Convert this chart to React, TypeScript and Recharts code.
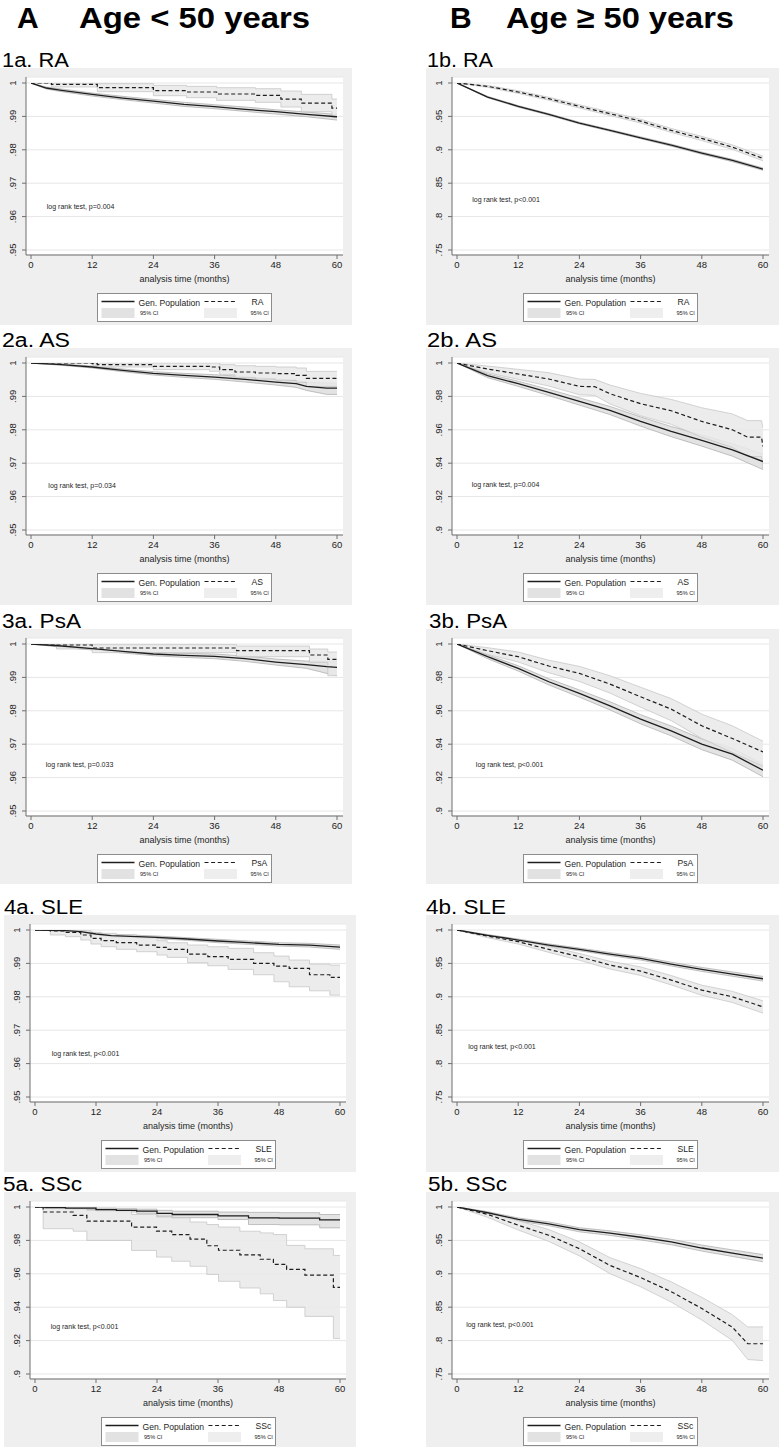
import React from "react";
import {
  ComposedChart,
  Line,
  Area,
  XAxis,
  YAxis,
  CartesianGrid,
  Legend,
  ReferenceDot,
} from "recharts";

// ticks
const MONTH_TICKS = [0, 12, 24, 36, 48, 60];
const Y_TICKS_UNDER50 = [0.95, 0.96, 0.97, 0.98, 0.99, 1];
const Y_TICKS_NARROW = [0.9, 0.92, 0.94, 0.96, 0.98, 1];
const Y_TICKS_WIDE = [0.75, 0.8, 0.85, 0.9, 0.95, 1];
const MONTHS_6 = [0, 6, 12, 18, 24, 30, 36, 42, 48, 54, 60];

// texts
const PANEL_TITLES = ["1a. RA", "2a. AS", "3a. PsA", "4a. SLE", "5a. SSc", "1b. RA", "2b. AS", "3b. PsA", "4b. SLE", "5b. SSc"];
const DISEASES = ["RA", "AS", "PsA", "SLE", "SSc", "RA", "AS", "PsA", "SLE", "SSc"];
const LOGRANK_P = ["p=0.004", "p=0.034", "p=0.033", "p<0.001", "p<0.001", "p<0.001", "p=0.004", "p<0.001", "p<0.001", "p<0.001"];

// ---- A. age < 50 ----
// 1a RA
const T_1A_GEN = [0, 3, 6, 12, 18, 24, 30, 36, 42, 48, 54, 60];
const S_1A_GEN = [1, 0.9985, 0.9978, 0.9966, 0.9955, 0.9946, 0.9936, 0.9929, 0.9921, 0.9914, 0.9906, 0.9899];
const LO_1A_GEN = [1, 0.9982, 0.9974, 0.9961, 0.995, 0.994, 0.993, 0.9923, 0.9915, 0.9907, 0.9899, 0.9889];
const HI_1A_GEN = [1, 0.9988, 0.9982, 0.997, 0.996, 0.9951, 0.9942, 0.9935, 0.9928, 0.992, 0.9913, 0.9906];
const T_1A_RA = [0, 4, 13, 24, 30.5, 36.4, 44, 49, 53, 59, 60];
const S_1A_RA = [1, 0.9996, 0.9986, 0.9977, 0.9973, 0.9967, 0.9963, 0.9952, 0.994, 0.9925, 0.9925];
const LO_1A_RA = [1, 0.9988, 0.9974, 0.9962, 0.9956, 0.9948, 0.9942, 0.9928, 0.9914, 0.9897, 0.9897];
const HI_1A_RA = [1, 1, 0.9998, 0.9993, 0.999, 0.9986, 0.9983, 0.9976, 0.9966, 0.9952, 0.9952];

// 2a AS
const T_2A_GEN = [0, 6, 12, 18, 24, 30, 36, 42, 48, 52, 54, 58, 60];
const S_2A_GEN = [1, 0.9995, 0.9988, 0.9978, 0.9969, 0.9963, 0.9958, 0.9951, 0.9943, 0.9938, 0.993, 0.9925, 0.9925];
const LO_2A_GEN = [1, 0.9993, 0.9985, 0.9974, 0.9964, 0.9957, 0.9951, 0.9943, 0.9934, 0.9927, 0.9918, 0.9906, 0.9906];
const HI_2A_GEN = [1, 0.9997, 0.9991, 0.9982, 0.9974, 0.9969, 0.9965, 0.9959, 0.9952, 0.9948, 0.9942, 0.994, 0.994];
const T_2A_AS = [0, 12, 13, 24, 35, 37, 40, 44, 48, 52, 54, 60];
const S_2A_AS = [1, 0.9998, 0.9995, 0.999, 0.9988, 0.998, 0.9973, 0.997, 0.9968, 0.9963, 0.9954, 0.9954];
const LO_2A_AS = [1, 0.9993, 0.9988, 0.998, 0.9975, 0.9965, 0.9956, 0.9952, 0.9948, 0.9942, 0.993, 0.993];
const HI_2A_AS = [1, 1, 1, 1, 1, 0.9995, 0.9992, 0.999, 0.9988, 0.9985, 0.9975, 0.9975];

// 3a PsA
const T_3A_GEN = [0, 6, 12, 18, 24, 30, 36, 42, 48, 54, 58, 60];
const S_3A_GEN = [1, 0.9994, 0.9986, 0.9978, 0.997, 0.9966, 0.9963, 0.9956, 0.9946, 0.9938, 0.9932, 0.993];
const LO_3A_GEN = [1, 0.999, 0.9982, 0.9973, 0.9965, 0.996, 0.9956, 0.9948, 0.9937, 0.9927, 0.9912, 0.9905];
const HI_3A_GEN = [1, 0.9997, 0.999, 0.9983, 0.9975, 0.9972, 0.997, 0.9964, 0.9955, 0.9949, 0.9948, 0.9948];
const T_3A_PSA = [0, 5, 12, 40.3, 54.6, 58.2, 60];
const S_3A_PSA = [1, 0.9997, 0.9988, 0.998, 0.9967, 0.9954, 0.9954];
const LO_3A_PSA = [1, 0.9985, 0.9974, 0.9962, 0.9945, 0.9905, 0.9905];
const HI_3A_PSA = [1, 1, 0.9998, 0.9994, 0.9985, 0.9976, 0.9976];

// 4a SLE
const T_4A_GEN = [0, 6, 9, 12, 15, 24, 30, 36, 42, 48, 54, 60];
const S_4A_GEN = [1, 0.9998, 0.9995, 0.9988, 0.9983, 0.9978, 0.9973, 0.9967, 0.9962, 0.9957, 0.9955, 0.9949];
const LO_4A_GEN = [1, 0.9996, 0.9992, 0.9985, 0.9979, 0.9974, 0.9969, 0.9962, 0.9957, 0.9952, 0.9949, 0.9942];
const HI_4A_GEN = [1, 1, 0.9998, 0.9992, 0.9987, 0.9982, 0.9977, 0.9972, 0.9967, 0.9962, 0.996, 0.9955];
const T_4A_SLE = [0, 3, 6, 9, 11, 13, 16, 20, 24, 26, 30, 34, 38, 43, 47, 50, 54, 58, 60];
const S_4A_SLE = [1, 0.9997, 0.9993, 0.9985, 0.9975, 0.9968, 0.9962, 0.9955, 0.9948, 0.9942, 0.9928, 0.992, 0.9912, 0.99, 0.9892, 0.9885, 0.9866, 0.9858, 0.9858];
const LO_4A_SLE = [1, 0.9985, 0.998, 0.997, 0.9958, 0.995, 0.9942, 0.9935, 0.9925, 0.9918, 0.9902, 0.9893, 0.9882, 0.9866, 0.9845, 0.983, 0.9818, 0.9805, 0.9805];
const HI_4A_SLE = [1, 1, 1, 0.9998, 0.9993, 0.999, 0.9986, 0.998, 0.9968, 0.9962, 0.9955, 0.995, 0.9945, 0.9932, 0.9922, 0.991, 0.9898, 0.9895, 0.9895];

// 5a SSc
const T_5A_GEN = [0, 2, 6, 12, 16, 20, 24, 27, 36, 42, 48, 56, 60];
const S_5A_GEN = [1, 0.9996, 0.9993, 0.9984, 0.998, 0.9975, 0.9962, 0.9955, 0.9947, 0.9935, 0.9933, 0.9923, 0.9923];
const LO_5A_GEN = [1, 0.999, 0.9985, 0.9975, 0.997, 0.9962, 0.9945, 0.9936, 0.9925, 0.9895, 0.9893, 0.9875, 0.9875];
const HI_5A_GEN = [1, 1, 1, 0.9993, 0.999, 0.9987, 0.998, 0.9975, 0.997, 0.9968, 0.9966, 0.9955, 0.9955];
const T_5A_SSC = [0, 1.6, 7.5, 10.2, 19, 23.9, 26.9, 30.5, 33.8, 36.1, 40.3, 44.3, 46.9, 49.5, 53.1, 58.7, 60];
const S_5A_SSC = [1, 0.997, 0.995, 0.9915, 0.9879, 0.9855, 0.9834, 0.9808, 0.9768, 0.9741, 0.9713, 0.9687, 0.9657, 0.9626, 0.9592, 0.9519, 0.9519];
const LO_5A_SSC = [1, 0.987, 0.9855, 0.98, 0.974, 0.97, 0.9675, 0.9645, 0.9596, 0.9555, 0.9515, 0.948, 0.944, 0.94, 0.9345, 0.9212, 0.9212];
const HI_5A_SSC = [1, 0.9995, 0.999, 0.998, 0.9955, 0.994, 0.9935, 0.991, 0.9895, 0.988, 0.9855, 0.9845, 0.9835, 0.977, 0.975, 0.971, 0.971];

// ---- B. age >= 50 (values every 6 months unless own times) ----
// 1b RA
const S_1B_GEN = [1, 0.979, 0.965, 0.953, 0.94, 0.929, 0.918, 0.907, 0.895, 0.884, 0.871];
const LO_1B_GEN = [1, 0.978, 0.9638, 0.9518, 0.9387, 0.9277, 0.9166, 0.9055, 0.8934, 0.8822, 0.8693];
const HI_1B_GEN = [1, 0.98, 0.9662, 0.9542, 0.9413, 0.9303, 0.9194, 0.9085, 0.8966, 0.8858, 0.8727];
const S_1B_RA = [1, 0.995, 0.9865, 0.9765, 0.965, 0.954, 0.943, 0.929, 0.917, 0.904, 0.887];
const LO_1B_RA = [1, 0.9935, 0.9845, 0.9742, 0.9625, 0.9513, 0.9401, 0.926, 0.9138, 0.9006, 0.8835];
const HI_1B_RA = [1, 0.9963, 0.9884, 0.9787, 0.9674, 0.9566, 0.9458, 0.932, 0.9201, 0.9073, 0.8905];

// 2b AS
const S_2B_GEN = [1, 0.9924, 0.9876, 0.9824, 0.977, 0.9716, 0.965, 0.959, 0.9536, 0.948, 0.941];
const LO_2B_GEN = [1, 0.9912, 0.986, 0.9805, 0.9748, 0.9691, 0.9622, 0.9559, 0.9502, 0.9442, 0.9362];
const HI_2B_GEN = [1, 0.9935, 0.9891, 0.9842, 0.9791, 0.974, 0.9677, 0.962, 0.9569, 0.9516, 0.9455];
const T_2B_AS = [0, 6, 12, 18, 24, 27, 30, 36, 42, 48, 54, 57, 59.7, 60];
const S_2B_AS = [1, 0.9964, 0.9934, 0.9904, 0.986, 0.9858, 0.9816, 0.9756, 0.9714, 0.965, 0.96, 0.9556, 0.9556, 0.95];
const LO_2B_AS = [1, 0.9942, 0.9902, 0.9862, 0.981, 0.9806, 0.9755, 0.9684, 0.9633, 0.9555, 0.9495, 0.944, 0.944, 0.9365];
const HI_2B_AS = [1, 0.9982, 0.9962, 0.9942, 0.9904, 0.9902, 0.9868, 0.9818, 0.9782, 0.9732, 0.9695, 0.9655, 0.9655, 0.9612];

// 3b PsA
const S_3B_GEN = [1, 0.9924, 0.9854, 0.9774, 0.9704, 0.963, 0.955, 0.948, 0.94, 0.934, 0.9244];
const LO_3B_GEN = [1, 0.9912, 0.9838, 0.9755, 0.9682, 0.9605, 0.9522, 0.945, 0.9367, 0.9304, 0.9205];
const HI_3B_GEN = [1, 0.9935, 0.987, 0.9792, 0.9725, 0.9654, 0.9577, 0.9509, 0.9432, 0.9375, 0.9282];
const S_3B_PSA = [1, 0.996, 0.9924, 0.9868, 0.9824, 0.976, 0.9684, 0.961, 0.951, 0.9434, 0.9354];
const LO_3B_PSA = [1, 0.9938, 0.9892, 0.9828, 0.9776, 0.9706, 0.9622, 0.9541, 0.9434, 0.935, 0.9268];
const HI_3B_PSA = [1, 0.9978, 0.9952, 0.9903, 0.9866, 0.981, 0.9741, 0.9673, 0.958, 0.951, 0.9418];

// 4b SLE
const S_4B_GEN = [1, 0.992, 0.985, 0.9775, 0.971, 0.964, 0.9575, 0.949, 0.941, 0.934, 0.927];
const LO_4B_GEN = [1, 0.991, 0.9835, 0.9758, 0.969, 0.9618, 0.955, 0.9462, 0.938, 0.9308, 0.9235];
const HI_4B_GEN = [1, 0.993, 0.9865, 0.9792, 0.973, 0.9662, 0.96, 0.9518, 0.944, 0.9372, 0.9305];
const S_4B_SLE = [1, 0.991, 0.9825, 0.971, 0.96, 0.9475, 0.9385, 0.925, 0.91, 0.9, 0.885];
const LO_4B_SLE = [1, 0.9885, 0.979, 0.9665, 0.9548, 0.9415, 0.932, 0.9178, 0.9022, 0.8915, 0.8755];
const HI_4B_SLE = [1, 0.9932, 0.9858, 0.9752, 0.9648, 0.9532, 0.9447, 0.9318, 0.9174, 0.9081, 0.894];

// 5b SSc
const S_5B_GEN = [1, 0.9914, 0.9814, 0.9749, 0.966, 0.961, 0.9547, 0.9477, 0.9386, 0.931, 0.9235];
const LO_5B_GEN = [1, 0.9895, 0.979, 0.972, 0.9628, 0.9575, 0.9508, 0.9435, 0.934, 0.926, 0.918];
const HI_5B_GEN = [1, 0.993, 0.9836, 0.9776, 0.969, 0.9643, 0.9584, 0.9517, 0.943, 0.9358, 0.9288];
const T_5B_SSC = [0, 6, 12, 18, 24, 30, 36, 42, 48, 54, 57, 60];
const S_5B_SSC = [1, 0.989, 0.9728, 0.9577, 0.9376, 0.9125, 0.8944, 0.8732, 0.8481, 0.82, 0.7953, 0.7953];
const LO_5B_SSC = [1, 0.9845, 0.9655, 0.9485, 0.9268, 0.9002, 0.8806, 0.8577, 0.8308, 0.8003, 0.7717, 0.77];
const HI_5B_SSC = [1, 0.9928, 0.9795, 0.9663, 0.9478, 0.9242, 0.9078, 0.888, 0.8648, 0.8388, 0.8205, 0.8205];

type Row = { t: number; s: number; ci: [number, number] };
const km = (t: number[], s: number[], lo: number[], hi: number[]): Row[] =>
  t.map((m, i) => ({ t: m, s: s[i], ci: [lo[i], hi[i]] }));

type Curve = "linear" | "stepAfter";
type PanelDef = {
  left: number;
  top: number;
  width: number;
  height: number;
  mr: number;
  mb: number;
  titleX: number;
  titleW: number;
  yTicks: number[];
  gen: Row[];
  dis: Row[];
  genCurve: Curve;
  disCurve: Curve;
  pAt: [number, number];
};

const FONT = "'Liberation Sans', Arial, Helvetica, sans-serif";
const INK = "#1e1e1e";

const PANELS: PanelDef[] = [
  { left: 0, top: 68, width: 352, height: 257, mr: 9, mb: 3, titleX: 2, titleW: 67, yTicks: Y_TICKS_UNDER50,
    gen: km(T_1A_GEN, S_1A_GEN, LO_1A_GEN, HI_1A_GEN), dis: km(T_1A_RA, S_1A_RA, LO_1A_RA, HI_1A_RA),
    genCurve: "linear", disCurve: "stepAfter", pAt: [3.1, 0.963] },
  { left: 0, top: 348, width: 352, height: 257, mr: 9, mb: 3, titleX: 2, titleW: 68, yTicks: Y_TICKS_UNDER50,
    gen: km(T_2A_GEN, S_2A_GEN, LO_2A_GEN, HI_2A_GEN), dis: km(T_2A_AS, S_2A_AS, LO_2A_AS, HI_2A_AS),
    genCurve: "linear", disCurve: "stepAfter", pAt: [3.4, 0.9633] },
  { left: 0, top: 629, width: 352, height: 255, mr: 9, mb: 1, titleX: 2, titleW: 79, yTicks: Y_TICKS_UNDER50,
    gen: km(T_3A_GEN, S_3A_GEN, LO_3A_GEN, HI_3A_GEN), dis: km(T_3A_PSA, S_3A_PSA, LO_3A_PSA, HI_3A_PSA),
    genCurve: "linear", disCurve: "stepAfter", pAt: [2.9, 0.9638] },
  { left: 4, top: 915, width: 352, height: 257, mr: 10, mb: 3, titleX: 4, titleW: 79, yTicks: Y_TICKS_UNDER50,
    gen: km(T_4A_GEN, S_4A_GEN, LO_4A_GEN, HI_4A_GEN), dis: km(T_4A_SLE, S_4A_SLE, LO_4A_SLE, HI_4A_SLE),
    genCurve: "linear", disCurve: "stepAfter", pAt: [3.3, 0.9631] },
  { left: 4, top: 1192, width: 352, height: 255, mr: 10, mb: 1, titleX: 3, titleW: 79, yTicks: Y_TICKS_NARROW,
    gen: km(T_5A_GEN, S_5A_GEN, LO_5A_GEN, HI_5A_GEN), dis: km(T_5A_SSC, S_5A_SSC, LO_5A_SSC, HI_5A_SSC),
    genCurve: "stepAfter", disCurve: "stepAfter", pAt: [3.1, 0.9287] },
  { left: 426, top: 68, width: 353, height: 257, mr: 10, mb: 3, titleX: 427, titleW: 66, yTicks: Y_TICKS_WIDE,
    gen: km(MONTHS_6, S_1B_GEN, LO_1B_GEN, HI_1B_GEN), dis: km(MONTHS_6, S_1B_RA, LO_1B_RA, HI_1B_RA),
    genCurve: "linear", disCurve: "linear", pAt: [3.0, 0.825] },
  { left: 426, top: 348, width: 353, height: 257, mr: 10, mb: 3, titleX: 427, titleW: 70, yTicks: Y_TICKS_NARROW,
    gen: km(MONTHS_6, S_2B_GEN, LO_2B_GEN, HI_2B_GEN), dis: km(T_2B_AS, S_2B_AS, LO_2B_AS, HI_2B_AS),
    genCurve: "linear", disCurve: "linear", pAt: [2.9, 0.927] },
  { left: 426, top: 629, width: 353, height: 255, mr: 10, mb: 1, titleX: 429, titleW: 78, yTicks: Y_TICKS_NARROW,
    gen: km(MONTHS_6, S_3B_GEN, LO_3B_GEN, HI_3B_GEN), dis: km(MONTHS_6, S_3B_PSA, LO_3B_PSA, HI_3B_PSA),
    genCurve: "linear", disCurve: "linear", pAt: [3.7, 0.928] },
  { left: 426, top: 915, width: 353, height: 257, mr: 10, mb: 3, titleX: 426, titleW: 80, yTicks: Y_TICKS_WIDE,
    gen: km(MONTHS_6, S_4B_GEN, LO_4B_GEN, HI_4B_GEN), dis: km(MONTHS_6, S_4B_SLE, LO_4B_SLE, HI_4B_SLE),
    genCurve: "linear", disCurve: "linear", pAt: [2.2, 0.8253] },
  { left: 426, top: 1192, width: 353, height: 255, mr: 10, mb: 1, titleX: 428, titleW: 79, yTicks: Y_TICKS_WIDE,
    gen: km(MONTHS_6, S_5B_GEN, LO_5B_GEN, HI_5B_GEN), dis: km(T_5B_SSC, S_5B_SSC, LO_5B_SSC, HI_5B_SSC),
    genCurve: "linear", disCurve: "linear", pAt: [1.8, 0.8234] },
];

const fmtY = (v: number) => (v === 1 ? "1" : String(v).replace(/^0/, ""));

function YTick(props: any) {
  const { x, y, payload } = props;
  return (
    <text x={x} y={y} transform={`rotate(-90 ${x} ${y})`} textAnchor="middle" fontSize={9.5} fill={INK}>
      {fmtY(payload.value)}
    </text>
  );
}

function KmLegend({ disease, width }: { disease: string; width: number }) {
  return (
    <div style={{ width, height: 37, paddingLeft: 26, boxSizing: "border-box", display: "flex", justifyContent: "center", alignItems: "flex-end" }}>
      <svg width={175} height={29} style={{ display: "block" }}>
        <rect x={0.5} y={0.5} width={174} height={28} fill="#fff" stroke="#8c8c8c" />
        <line x1={4.5} x2={37.5} y1={8.5} y2={8.5} stroke={INK} strokeWidth={1.3} />
        <text x={41.5} y={13} fontSize={8.6} fill={INK}>Gen. Population</text>
        <line x1={107.5} x2={140} y1={8.5} y2={8.5} stroke={INK} strokeWidth={1.2} strokeDasharray="4 2.6" />
        <text x={154.5} y={12} fontSize={8.6} fill={INK}>{disease}</text>
        <rect x={4.5} y={15} width={33} height={10} fill="#e2e2e2" />
        <text x={43} y={22} fontSize={5.6} fill={INK}>95% CI</text>
        <rect x={107} y={15} width={33} height={10} fill="#eeeeee" />
        <text x={153.5} y={22} fontSize={5.6} fill={INK}>95% CI</text>
      </svg>
    </div>
  );
}

function KmPanel({ p, idx }: { p: PanelDef; idx: number }) {
  const yMin = p.yTicks[0];
  return (
    <div style={{ position: "absolute", left: p.left, top: p.top, width: p.width, height: p.height, background: "#efefef" }}>
      <ComposedChart width={p.width} height={p.height} margin={{ top: 9, right: p.mr, bottom: p.mb, left: 0 }}>
        <CartesianGrid vertical={false} stroke="#e6e6e6" fill="#ffffff" />
        <XAxis
          type="number"
          dataKey="t"
          domain={[0, 60]}
          ticks={MONTH_TICKS}
          allowDataOverflow
          padding={{ left: 5, right: 6 }}
          height={30}
          tickSize={4}
          tickMargin={2}
          stroke="#6e6e6e"
          tick={{ fontSize: 9.5, fill: INK }}
          label={{ value: "analysis time (months)", position: "insideBottom", offset: 3, fontSize: 9, fill: INK }}
        />
        <YAxis
          type="number"
          domain={[yMin, 1]}
          ticks={p.yTicks}
          allowDataOverflow
          padding={{ top: 6, bottom: 5 }}
          width={26}
          tickSize={4}
          tickMargin={6}
          stroke="#6e6e6e"
          tick={(tp: any) => <YTick {...tp} />}
        />
        <Area data={p.gen} dataKey="ci" type={p.genCurve} fill="#e0e0e0" fillOpacity={0.9} stroke="#a9a9a9" strokeWidth={0.7} isAnimationActive={false} />
        <Area data={p.dis} dataKey="ci" type={p.disCurve} fill="#e9e9e9" fillOpacity={0.85} stroke="#c2c2c2" strokeWidth={0.7} isAnimationActive={false} />
        <Line data={p.gen} dataKey="s" name="Gen. Population" type={p.genCurve} stroke={INK} strokeWidth={1.3} dot={false} activeDot={false} isAnimationActive={false} />
        <Line data={p.dis} dataKey="s" name={DISEASES[idx]} type={p.disCurve} stroke={INK} strokeWidth={1.2} strokeDasharray="4 2.6" dot={false} activeDot={false} isAnimationActive={false} />
        <ReferenceDot
          x={p.pAt[0]}
          y={p.pAt[1]}
          r={0}
          fill="none"
          stroke="none"
          label={{ value: `log rank test, ${LOGRANK_P[idx]}`, position: "right", offset: 0, fontSize: 7, fill: INK }}
        />
        <Legend verticalAlign="bottom" align="center" content={() => <KmLegend disease={DISEASES[idx]} width={p.width - p.mr} />} />
      </ComposedChart>
    </div>
  );
}

export default function App() {
  return (
    <div style={{ position: "absolute", left: 0, top: 0, width: 779, height: 1447, background: "#fff", fontFamily: FONT, overflow: "hidden" }}>
      {PANELS.map((p, i) => (
        <KmPanel key={PANEL_TITLES[i]} p={p} idx={i} />
      ))}
      <svg width={779} height={1447} style={{ position: "absolute", left: 0, top: 0, pointerEvents: "none" }}>
        <text x={17} y={28} fontSize={30} fontWeight="bold" fill="#000">A</text>
        <text x={79} y={28} fontSize={30} fontWeight="bold" fill="#000" textLength={231} lengthAdjust="spacingAndGlyphs">Age &lt; 50 years</text>
        <text x={450} y={28} fontSize={30} fontWeight="bold" fill="#000">B</text>
        <text x={506} y={28} fontSize={30} fontWeight="bold" fill="#000" textLength={228} lengthAdjust="spacingAndGlyphs">Age ≥ 50 years</text>
        {PANELS.map((p, i) => (
          <text key={PANEL_TITLES[i]} x={p.titleX} y={p.top - 1} fontSize={20} fill="#000" textLength={p.titleW} lengthAdjust="spacingAndGlyphs">
            {PANEL_TITLES[i]}
          </text>
        ))}
      </svg>
    </div>
  );
}
